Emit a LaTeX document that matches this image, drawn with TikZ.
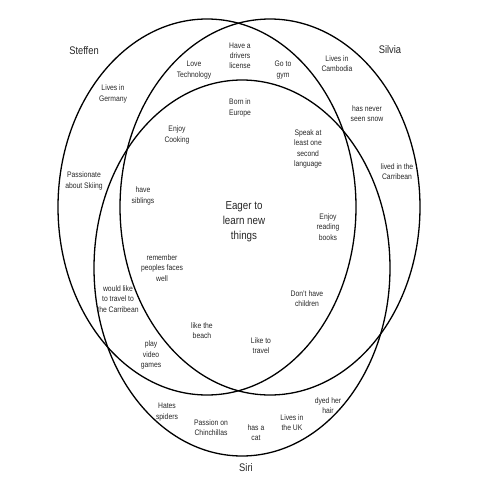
\documentclass[tikz,border=0pt]{standalone}
\usepackage{fontspec}
\setmainfont{Liberation Sans}[FakeStretch=0.85]
\begin{document}
\begin{tikzpicture}[x=1pt,y=-1pt,
  ring/.style={draw=black,line width=1.3pt},
  item/.style={inner sep=0pt,align=center,text=black!85,font=\fontsize{8}{10.2}\selectfont},
  who/.style={inner sep=0pt,text=black!85,font=\fontsize{11}{13}\selectfont},
  core/.style={inner sep=0pt,align=center,text=black!85,font=\fontsize{11.5}{15}\selectfont}]
\useasboundingbox (0,0) rectangle (480,480);
% sets
\draw[ring] (207,207) ellipse [x radius=149, y radius=188];
\draw[ring] (270,207) ellipse [x radius=150, y radius=188];
\draw[ring] (242,268) ellipse [x radius=148, y radius=188];
% names
\node[who] (steffen) at (84,51) {Steffen};
\node[who] (silvia) at (390,50) {Silvia};
\node[who] (siri) at (246,468) {Siri};
% items
\node[item] (license) at (240,56) {Have a\\drivers\\license};
\node[item] (tech) at (194,70) {Love\\Technology};
\node[item] (gym) at (283,70) {Go to\\gym};
\node[item] (europe) at (240,108) {Born in\\Europe};
\node[item] (cambodia) at (337,64) {Lives in\\Cambodia};
\node[item] (snow) at (367,114) {has never\\seen snow};
\node[item] (language) at (308,149) {Speak at\\least one\\second\\language};
\node[item] (germany) at (113,94) {Lives in\\Germany};
\node[item] (cooking) at (177,135) {Enjoy\\Cooking};
\node[item] (skiing) at (84,181) {Passionate\\about Skiing};
\node[item] (siblings) at (143,196) {have\\siblings};
\node[core] (eager) at (244,222) {Eager to\\learn new\\things};
\node[item] (caribbean) at (397,172) {lived in the\\Carribean};
\node[item] (reading) at (328,227) {Enjoy\\reading\\books};
\node[item] (faces) at (162,268) {remember\\peoples faces\\well};
\node[item] (travelto) at (118,299) {would like\\to travel to\\the Carribean};
\node[item] (children) at (307,299) {Don't have\\children};
\node[item] (beach) at (202,331) {like the\\beach};
\node[item] (games) at (151,355) {play\\video\\games};
\node[item] (travel) at (261,346) {Like to\\travel};
\node[item] (spiders) at (167,412) {Hates\\spiders};
\node[item] (chinchillas) at (211,428) {Passion on\\Chinchillas};
\node[item] (cat) at (256,433) {has a\\cat};
\node[item] (uk) at (292,423) {Lives in\\the UK};
\node[item] (hair) at (328,406) {dyed her\\hair};
\end{tikzpicture}
\end{document}
